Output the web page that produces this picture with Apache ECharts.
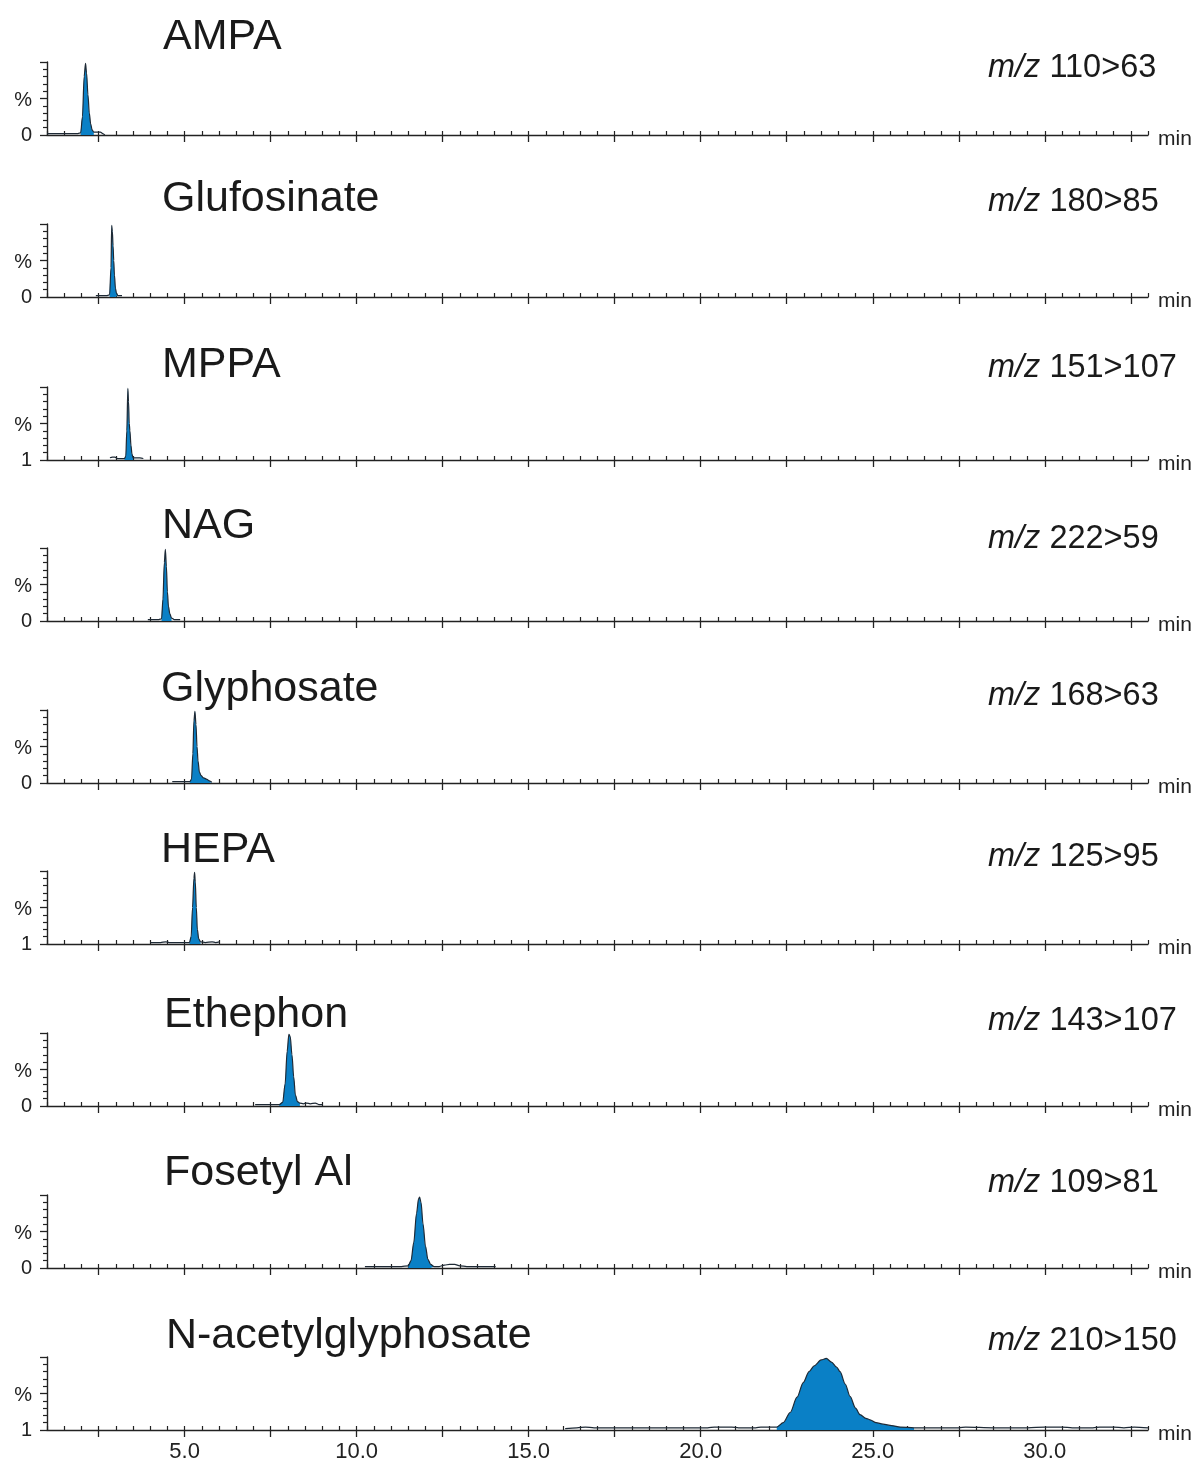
<!DOCTYPE html>
<html>
<head>
<meta charset="utf-8">
<script src="https://cdn.jsdelivr.net/npm/echarts/dist/echarts.min.js"></script>
<style>
html,body{margin:0;padding:0;background:#fff;}
#c{width:1198px;height:1464px;}
</style>
</head>
<body>
<div id="c"></div>
<script>
// ---------------- DATA ----------------
const compounds = ['AMPA','Glufosinate','MPPA','NAG','Glyphosate','HEPA','Ethephon','Fosetyl Al','N-acetylglyphosate'];
const transitions = ['110>63','180>85','151>107','222>59','168>63','125>95','143>107','109>81','210>150'];
const baseLabels = ['0','0','1','0','0','1','0','0','1'];
const xTickLabels = ['5.0','10.0','15.0','20.0','25.0','30.0'];
const xLabelValues = [5,10,15,20,25,30];
const majorTickValues = [2.5,5,7.5,10,12.5,15,17.5,20,22.5,25,27.5,30,32.5];

// chromatogram traces: [retention time (min), relative intensity (%)]
const ampaTrace = [[1.0,2],[1.3,2],[1.6,2],[1.9,2],[1.98,3],[2.03,25],[2.08,80],[2.12,98],[2.15,85],[2.19,55],[2.23,30],[2.27,15],[2.31,7],[2.36,4],[2.45,4],[2.55,4],[2.62,2],[2.68,0]];
const glufosinateTrace = [[2.42,2],[2.6,2],[2.75,2],[2.82,3],[2.86,40],[2.88,98],[2.9,90],[2.92,70],[2.94,50],[2.96,30],[2.99,12],[3.02,5],[3.06,2],[3.18,2]];
const mppaTrace = [[2.83,3],[2.9,4],[2.97,4],[3.05,2],[3.15,2],[3.25,2],[3.29,5],[3.32,40],[3.35,98],[3.37,80],[3.39,50],[3.41,40],[3.44,20],[3.47,8],[3.5,3],[3.6,3],[3.7,3],[3.8,2]];
const nagTrace = [[3.93,2],[4.1,2],[4.25,2],[4.33,3],[4.37,30],[4.41,80],[4.44,98],[4.47,75],[4.5,40],[4.53,20],[4.57,10],[4.62,4],[4.7,2],[4.87,2]];
const glyphosateTrace = [[4.64,2],[4.8,2],[5.0,2],[5.15,2],[5.2,5],[5.24,40],[5.27,85],[5.3,98],[5.33,80],[5.36,50],[5.39,30],[5.43,15],[5.48,10],[5.55,7],[5.65,5],[5.72,3],[5.79,1]];
const hepaTrace = [[4.01,2],[4.3,2],[4.45,3],[4.55,2],[4.8,2],[5.0,2],[5.14,2],[5.19,10],[5.23,50],[5.27,90],[5.29,98],[5.31,85],[5.34,50],[5.37,20],[5.41,7],[5.46,3],[5.6,2],[5.8,3],[5.9,2],[6.01,3]];
const ethephonTrace = [[7.05,2],[7.3,2],[7.55,2],[7.75,2],[7.85,5],[7.92,30],[7.98,75],[8.03,98],[8.07,95],[8.12,70],[8.17,40],[8.22,15],[8.28,6],[8.35,4],[8.45,3],[8.55,4],[8.65,3],[8.8,4],[8.9,2],[9.01,2]];
const fosetylTrace = [[10.24,2],[10.6,2],[11.0,2],[11.3,2],[11.5,3],[11.58,10],[11.66,35],[11.74,75],[11.8,95],[11.83,97],[11.87,90],[11.93,60],[12.0,30],[12.07,12],[12.15,5],[12.25,2],[12.4,2],[12.55,4],[12.7,5],[12.85,5],[13.0,3],[13.2,2],[13.6,2],[14.04,2]];
const nacetylTrace = [[16.06,2],[16.4,3],[16.65,4],[16.9,3],[17.5,3],[18.5,3],[19.5,3],[20.2,3],[20.4,4],[20.9,4],[21.1,3],[21.6,3],[21.75,4],[22.0,4],[22.21,4],[22.4,10],[22.6,24],[22.8,45],[22.98,65],[23.15,80],[23.3,88],[23.5,96],[23.65,98],[23.8,93],[23.95,86],[24.05,80],[24.2,63],[24.34,46],[24.5,30],[24.63,21],[24.8,16],[24.92,14],[25.1,10],[25.3,8],[25.55,6],[25.8,4],[26.2,3],[27.0,3],[27.5,3],[27.7,4],[28.5,3],[29.5,3],[30.0,4],[30.5,4],[30.8,3],[31.4,3],[31.6,4],[32.0,4],[32.3,3],[32.6,4],[33.0,3]];

const traces = [ampaTrace, glufosinateTrace, mppaTrace, nagTrace, glyphosateTrace, hepaTrace, ethephonTrace, fosetylTrace, nacetylTrace];
// integrated (filled) peak window [start, end] in minutes
const peakWindows = [[1.98,2.36],[2.82,3.06],[3.25,3.5],[4.33,4.62],[5.15,5.79],[5.14,5.46],[7.75,8.35],[11.5,12.25],[22.21,26.2]];

// ---------------- LAYOUT ----------------
const FONT = "'Liberation Sans', Arial, Helvetica, sans-serif";
const axisYs = [135, 297, 460, 621, 783, 944, 1106, 1268, 1430];
const titleYs = [37, 199.5, 365, 526, 689.5, 850, 1015, 1173, 1336];
const mzYs = [68, 202, 368, 539, 696, 857, 1021, 1183, 1341];
const titleXs = [163, 162, 162, 162, 161, 161, 164, 164, 166];
const plotH = 73;
const INK = '#222';
const BLUE = '#0a80c6';

const grids = [], xAxes = [], yAxes = [], series = [], graphics = [];
compounds.forEach((name, i) => {
  const last = i === compounds.length - 1;
  grids.push({left: 47, right: 50, top: axisYs[i] - plotH, height: plotH});
  // main axis with major ticks
  xAxes.push({
    type: 'value', gridIndex: i, min: 1, max: 33,
    axisLine: {show: true, onZero: false, lineStyle: {color: INK, width: 1.4}},
    axisTick: {show: true, length: 7, customValues: majorTickValues, lineStyle: {color: INK, width: 1.3}},
    axisLabel: {show: last, customValues: xLabelValues, fontSize: 22, color: INK, fontFamily: FONT, margin: 11,
      formatter: v => { const k = xLabelValues.indexOf(v); return k >= 0 ? xTickLabels[k] : ''; }},
    splitLine: {show: false},
    name: 'min', nameLocation: 'end', nameGap: 10,
    nameTextStyle: {fontSize: 21, color: INK, fontFamily: FONT, align: 'left', verticalAlign: 'top', padding: [-6,0,0,0]}
  });
  // minor tick axis
  xAxes.push({
    type: 'value', gridIndex: i, min: 1, max: 33, interval: 0.5,
    axisLine: {show: false}, axisLabel: {show: false}, splitLine: {show: false},
    axisTick: {show: true, length: 4, lineStyle: {color: INK, width: 1.2}}
  });
  yAxes.push({
    type: 'value', gridIndex: i, min: 0, max: 100, interval: 50,
    axisLine: {show: true, lineStyle: {color: INK, width: 1.4}},
    axisTick: {show: true, length: 7, lineStyle: {color: INK, width: 1.3}},
    minorTick: {show: true, splitNumber: 5, length: 4, lineStyle: {color: INK, width: 1.2}},
    axisLabel: {show: true, fontSize: 20, color: INK, fontFamily: FONT, margin: 15,
      formatter: v => v === 0 ? baseLabels[i] : (v === 50 ? '{p|%}' : ''),
      rich: {p: {fontSize: 20, color: INK, fontFamily: FONT, padding: [4, 0, 0, 0]}}},
    splitLine: {show: false}, minorSplitLine: {show: false}
  });
  const win = peakWindows[i];
  const peakPts = traces[i].filter(p => p[0] >= win[0] && p[0] <= win[1]);
  series.push({
    type: 'line', xAxisIndex: 2 * i, yAxisIndex: i, data: peakPts,
    showSymbol: false, smooth: 0.3, smoothMonotone: 'x',
    lineStyle: {width: 0}, areaStyle: {color: BLUE, opacity: 1, origin: 'start'}, z: 2, silent: true
  });
  series.push({
    type: 'line', xAxisIndex: 2 * i, yAxisIndex: i, data: traces[i],
    showSymbol: false, smooth: 0.3, smoothMonotone: 'x',
    lineStyle: {width: 1.2, color: '#1e2a36'}, z: 3, silent: true
  });
  graphics.push({
    type: 'text', x: titleXs[i], y: titleYs[i],
    style: {text: name, font: '43px ' + FONT, fill: '#1a1a1a', textAlign: 'left', textVerticalAlign: 'middle'}
  });
  graphics.push({
    type: 'text', x: 988, y: mzYs[i],
    style: {
      text: '{i|m/z} {n|' + transitions[i] + '}',
      textAlign: 'left', textVerticalAlign: 'middle', fill: '#1a1a1a',
      font: '32.5px ' + FONT,
      rich: {
        i: {fontStyle: 'italic', fontSize: 32.5, fontFamily: FONT, fill: '#1a1a1a', color: '#1a1a1a'},
        n: {fontSize: 32.5, fontFamily: FONT, fill: '#1a1a1a', color: '#1a1a1a'}
      }
    }
  });
});

const chart = echarts.init(document.getElementById('c'), null, {renderer: 'canvas'});
chart.setOption({
  animation: false,
  backgroundColor: '#fff',
  grid: grids, xAxis: xAxes, yAxis: yAxes, series: series,
  graphic: graphics
});
</script>
</body>
</html>
